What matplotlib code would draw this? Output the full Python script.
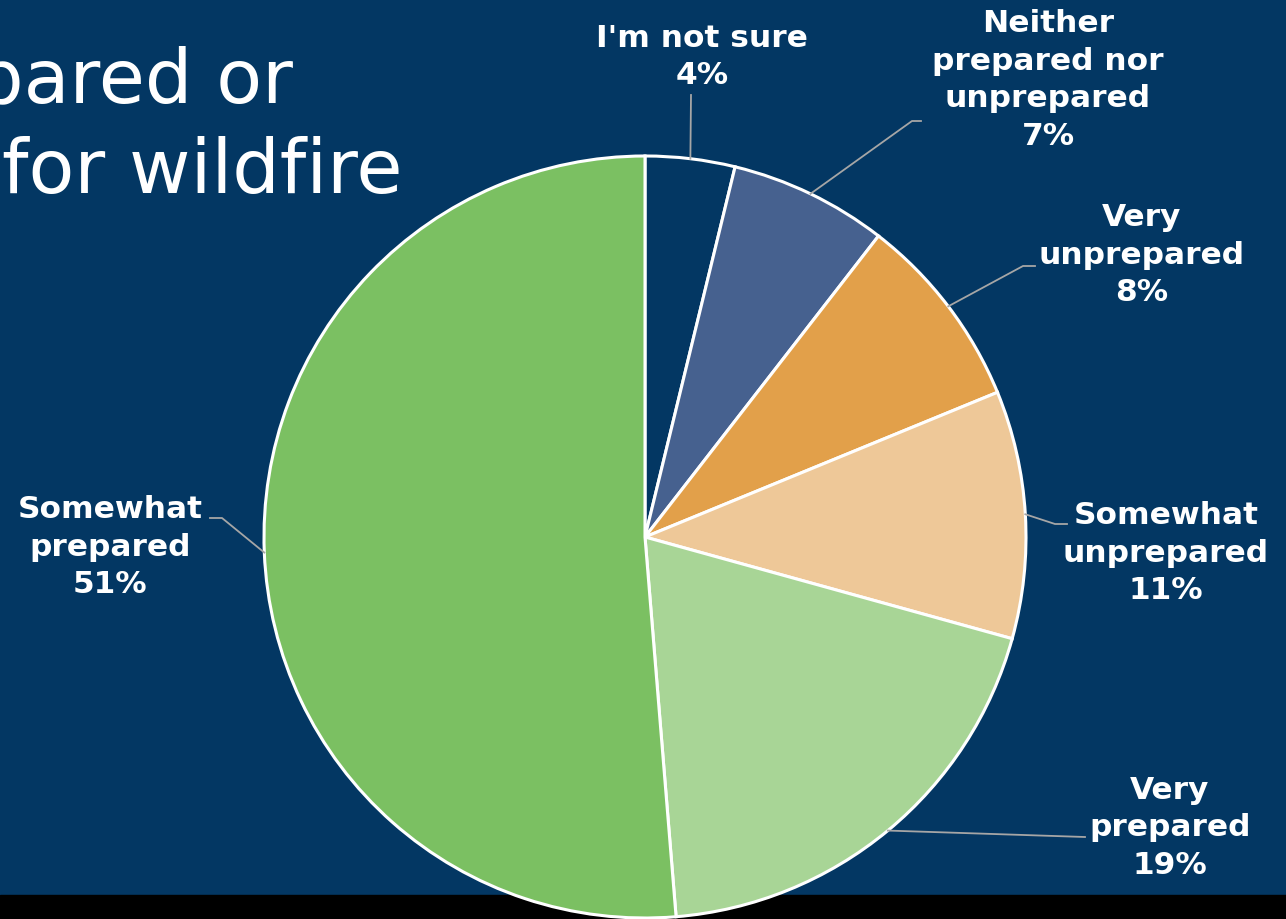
import numpy as np
import matplotlib.pyplot as plt
from matplotlib.patches import Rectangle

# survey answers, clockwise from the top
labels = ["I'm not sure", "Neither\nprepared nor\nunprepared", "Very\nunprepared",
          "Somewhat\nunprepared", "Very\nprepared", "Somewhat\nprepared"]
values = [3.8, 6.7, 8.3, 10.5, 19.4, 51.3]   # slice sizes
pct = [4, 7, 8, 11, 19, 51]                   # shown percentages
colors = ['#033763', '#46618f', '#e2a04a', '#eec898', '#a8d596', '#7bc062']

W, H = 1286, 919
bg = '#033763'

fig = plt.figure(figsize=(W / 100, H / 100), dpi=100)
fig.patch.set_facecolor(bg)
ax = fig.add_axes([0, 0, 1, 1])
ax.set_facecolor(bg)

# pixel-like layout, y measured from the top
def Y(y):
    return H - y

cx, cy, r = 645, 537, 381

ax.add_patch(Rectangle((0, 0), W, 24, color='black', zorder=0))

wedges, _ = ax.pie(values, colors=colors, startangle=90, counterclock=False,
                   center=(cx, Y(cy)), radius=r, frame=True,
                   wedgeprops=dict(edgecolor='white', linewidth=2.2))
for w in wedges:
    w.set_zorder(2)

ax.set_xlim(0, W)
ax.set_ylim(0, H)
ax.set_aspect('auto')
ax.axis('off')

# label text centres and leader elbow points
text_pos = [(702, 57), (1048, 80), (1142, 255), (1166, 553), (1170, 828), (110, 547)]
elbows = [[(691, 95)], [(912, 121), (921, 121)], [(1023, 266), (1035, 266)],
          [(1055, 524), (1067, 524)], [(1085, 837)], [(222, 518), (210, 518)]]

total = sum(values)
start = 0
for lab, v, p, tp, el in zip(labels, values, pct, text_pos, elbows):
    mid = np.deg2rad((start + v / 2) / total * 360)
    start += v
    x0 = cx + r * np.sin(mid)
    y0 = cy - r * np.cos(mid)
    xs = [x0] + [q[0] for q in el]
    ys = [Y(y0)] + [Y(q[1]) for q in el]
    ax.plot(xs, ys, color='#a6a6a6', lw=1.3, zorder=3)
    ax.text(tp[0], Y(tp[1]), f"{lab}\n{p}%", ha='center', va='center',
            multialignment='center', color='white', fontsize=22.5, fontweight='bold',
            family='DejaVu Sans', linespacing=1.38, zorder=4)

# title, cut off at the left edge in the original slide
ax.text(293, Y(103), "pared or", ha='right', va='baseline', color='white',
        fontsize=54, family='DejaVu Sans')
ax.text(402, Y(193), "for wildfire", ha='right', va='baseline', color='white',
        fontsize=54, family='DejaVu Sans')

fig.savefig('out.png', dpi=100, facecolor=bg)
